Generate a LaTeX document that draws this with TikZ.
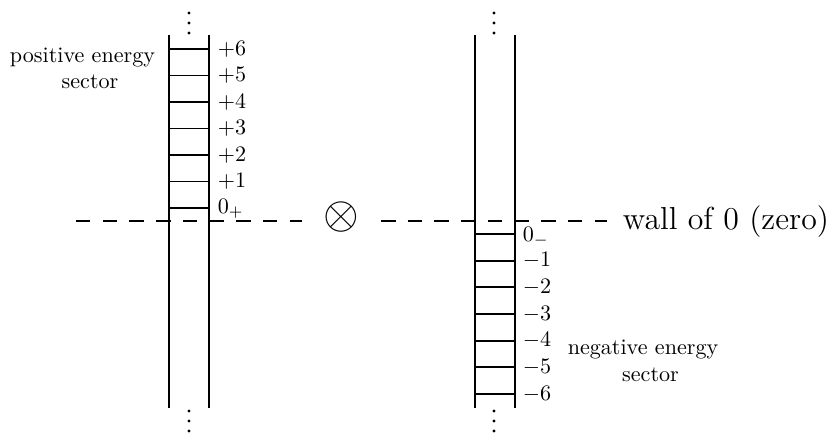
\documentclass[tikz,border=0pt]{standalone}
\begin{document}
\begin{tikzpicture}[x=0.4525pt,y=-0.4525pt,line width=0.85pt,
  lab/.style={anchor=base west,inner sep=0pt},
  sector/.style={align=center,inner sep=0pt},
  wallline/.style={dash pattern=on 6.56pt off 5.52pt},
  dotmark/.style={fill=black}]
\useasboundingbox (0,0) rectangle (827,433);
% left ladder (positive sector)
\draw (169,35) -- (169,408);
\draw (209,35) -- (209,408);
\foreach \y in {49,75.5,102,128.5,155,181.5,208} \draw (169,\y) -- (209,\y);
% right ladder (negative sector)
\draw (475,35) -- (475,408);
\draw (515,35) -- (515,408);
\foreach \y in {234,260.7,287.3,314,340.7,367.3,394} \draw (475,\y) -- (515,\y);
% level labels
\foreach \i/\y/\t in {6/49/+6,5/75.5/+5,4/102/+4,3/128.5/+3,2/155/+2,1/181.5/+1}
  \node[lab] (p\i) at (217,{\y+6}) {$\t$};
\node[lab] (p0) at (217,213) {$0_+$};
\node[lab] (m0) at (522,241) {$0_-$};
\foreach \i/\y/\t in {1/260.7/-1,2/287.3/-2,3/314/-3,4/340.7/-4,5/367.3/-5,6/394/-6}
  \node[lab] (m\i) at (522,{\y+6}) {$\t$};
% sector labels
\node[sector] (pos) at (82.5,68.6) {positive energy\\\hspace*{6.8pt}sector};
\node[sector] (neg) at (643,360.6) {negative energy\\\hspace*{6.8pt}sector};
% wall of zero
\node (ot) at (341.5,217) {\huge$\otimes$};
\node[lab] (wall) at (622,229) {\Large wall of 0 (zero)};
\coordinate (dl) at (76,221);
\coordinate (ol) at (302,221);
\coordinate (or) at (381,221);
\coordinate (dr) at (607,221);
\draw[wallline] (dl) -- (ol);
\draw[wallline] (or) -- (dr);
% vertical dots
\foreach \x in {189,494} {
  \foreach \y in {13,23,33,411,421,431}
    \fill[dotmark] (\x,\y) circle (0.75pt);
}
\end{tikzpicture}
\end{document}
